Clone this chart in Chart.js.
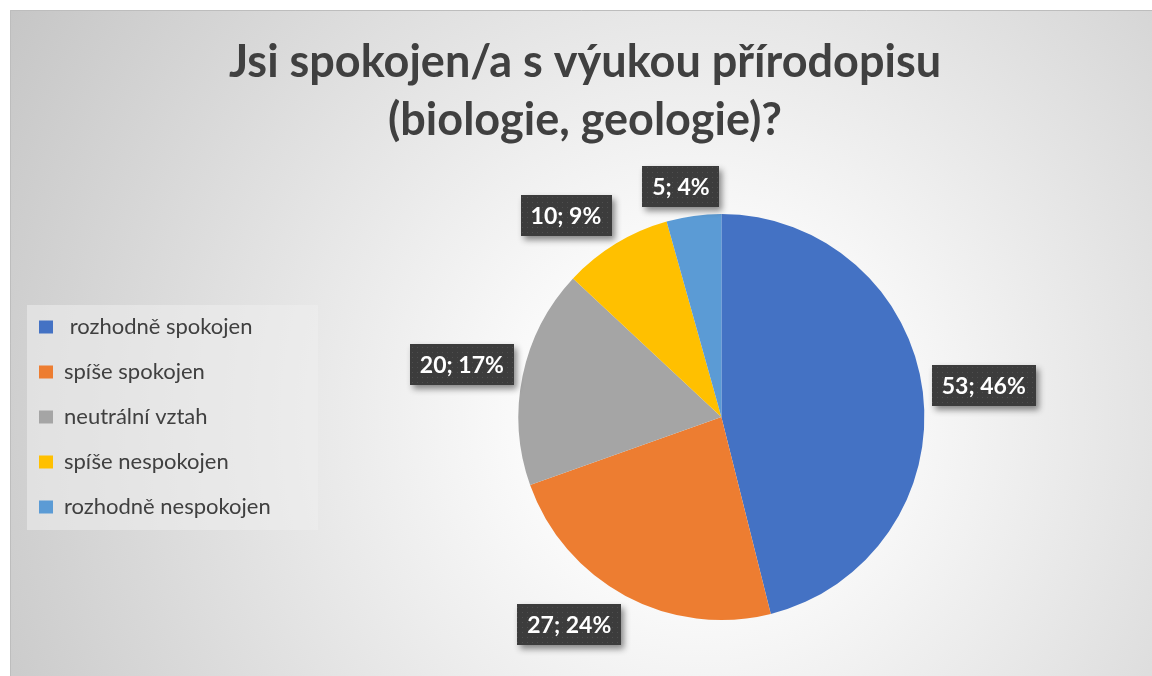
<!DOCTYPE html>
<html><head><meta charset="utf-8">
<script src="https://cdn.jsdelivr.net/npm/chart.js@4.4.1/dist/chart.umd.min.js"></script>
<style>html,body{margin:0;padding:0;background:#fff;overflow:hidden}#wrap{width:1152px;height:676px;position:relative}</style>
</head><body><div id="wrap"><canvas id="c"></canvas></div>
<script>
const titleLines = ['Jsi spokojen/a s výukou přírodopisu', '(biologie, geologie)?'];
const categories = [' rozhodně spokojen', 'spíše spokojen', 'neutrální vztah', 'spíše nespokojen', 'rozhodně nespokojen'];
const counts = [53, 27, 20, 10, 5];
const percentLabels = ['46%', '24%', '17%', '9%', '4%'];
const colors = ['#4472C4', '#ED7D31', '#A5A5A5', '#FFC000', '#5B9BD5'];

const FONT = 'Lato';

const bgPlugin = {
  id: 'bg',
  afterLayout(chart) {
    const t = chart.titleBlock;
    if (t) { t.left += 2; }
    chart.chartArea.left += 10;
    chart.chartArea.width = chart.chartArea.right - chart.chartArea.left;
  },
  beforeDraw(chart) {
    const ctx = chart.ctx, W = chart.width, H = chart.height;
    ctx.save();
    ctx.fillStyle = '#ffffff';
    ctx.fillRect(0, 0, W, H);
    const g = ctx.createRadialGradient(700, 420, 0, 700, 420, 800);
    g.addColorStop(0, '#ffffff');
    g.addColorStop(0.15, '#ffffff');
    g.addColorStop(1, '#c6c6c6');
    ctx.fillStyle = g;
    ctx.fillRect(10, 10, W, H);
    ctx.strokeStyle = '#bdbdbd';
    ctx.lineWidth = 1;
    ctx.beginPath();
    ctx.moveTo(10.5, H); ctx.lineTo(10.5, 10.5); ctx.lineTo(W, 10.5);
    ctx.stroke();
    const lg = chart.legend;
    if (lg && lg.legendHitBoxes && lg.legendHitBoxes.length) {
      const hb = lg.legendHitBoxes;
      const last = hb[hb.length - 1];
      const top = hb[0].top - 11, bottom = last.top + last.height + 12;
      const left = hb[0].left - 12;
      ctx.fillStyle = 'rgba(238,238,238,0.55)';
      ctx.fillRect(left, top, 291, bottom - top);
    }
    ctx.restore();
  }
};

function makePattern(ctx) {
  const p = document.createElement('canvas');
  p.width = 5; p.height = 5;
  const pc = p.getContext('2d');
  pc.fillStyle = '#3c3c3c';
  pc.fillRect(0, 0, 5, 5);
  pc.fillStyle = '#4f4f4f';
  pc.fillRect(2, 2, 1, 1);
  return ctx.createPattern(p, 'repeat');
}

const clamp = v => Math.max(-1, Math.min(1, v));

const labelPlugin = {
  id: 'boxLabels',
  afterDatasetsDraw(chart) {
    const ctx = chart.ctx;
    const meta = chart.getDatasetMeta(0);
    const pattern = makePattern(ctx);
    ctx.save();
    ctx.font = 'bold 23px ' + FONT;
    meta.data.forEach((arc, i) => {
      const p = arc.getProps(['x', 'y', 'startAngle', 'endAngle', 'outerRadius'], true);
      const mid = (p.startAngle + p.endAngle) / 2;
      const ux = Math.cos(mid), uy = Math.sin(mid);
      const text = counts[i] + '; ' + percentLabels[i];
      const tw = ctx.measureText(text).width;
      const w = tw + 20, h = 41;
      const ax = p.x + (p.outerRadius + 9) * ux, ay = p.y + (p.outerRadius + 9) * uy;
      const cx = ax + clamp(ux * 2.2) * w / 2, cy = ay + clamp(uy * 2.2) * h / 2;
      ctx.save();
      ctx.shadowColor = 'rgba(0,0,0,0.45)';
      ctx.shadowBlur = 6;
      ctx.shadowOffsetX = 3;
      ctx.shadowOffsetY = 4;
      ctx.fillStyle = pattern;
      ctx.fillRect(Math.round(cx - w / 2), Math.round(cy - h / 2), Math.round(w), h);
      ctx.restore();
      ctx.fillStyle = '#ffffff';
      ctx.textAlign = 'center';
      ctx.textBaseline = 'middle';
      ctx.fillText(text, cx, cy + 1);
    });
    ctx.restore();
  }
};

new Chart(document.getElementById('c'), {
  type: 'pie',
  data: {
    labels: categories,
    datasets: [{
      data: counts,
      backgroundColor: colors,
      borderWidth: 0
    }]
  },
  options: {
    responsive: true,
    maintainAspectRatio: false,
    animation: false,
    layout: { padding: { left: 16, right: 0, top: 0, bottom: 56 } },
    plugins: {
      title: {
        display: true,
        text: titleLines,
        color: '#404040',
        font: { family: FONT, size: 45, weight: 'bold', lineHeight: 1.3 },
        padding: { top: 33, bottom: 64 }
      },
      legend: {
        position: 'left',
        fullSize: false,
        labels: {
          boxWidth: 14,
          boxHeight: 13,
          padding: 23,
          color: '#404040',
          font: { family: FONT, size: 22 }
        }
      },
      tooltip: { enabled: false }
    }
  },
  plugins: [bgPlugin, labelPlugin]
});
</script>
</body></html>
